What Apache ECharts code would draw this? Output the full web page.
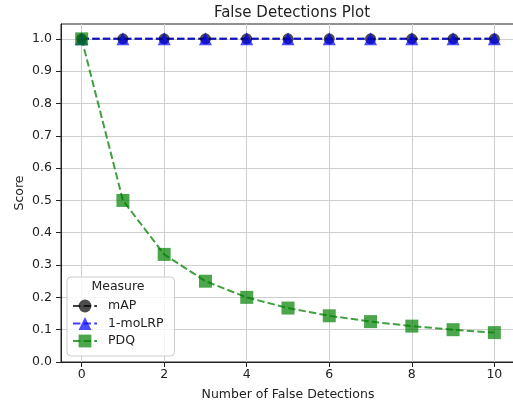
<!DOCTYPE html>
<html>
<head>
<meta charset="utf-8">
<script src="https://cdn.jsdelivr.net/npm/echarts@6/dist/echarts.min.js"></script>
<style>
  html, body { margin: 0; padding: 0; background: #ffffff; }
  #chart { width: 513px; height: 402px; }
</style>
</head>
<body>
<div id="chart"></div>
<script>
// Number of injected false detections per image
const falseDetections = [0, 1, 2, 3, 4, 5, 6, 7, 8, 9, 10];

// Scores for each measure
const mapScores   = [1.0, 1.0, 1.0, 1.0, 1.0, 1.0, 1.0, 1.0, 1.0, 1.0, 1.0];
const moLrpScores = [1.0, 1.0, 1.0, 1.0, 1.0, 1.0, 1.0, 1.0, 1.0, 1.0, 1.0];
const pdqScores   = [1.0, 0.5, 0.333, 0.25, 0.2, 0.167, 0.143, 0.125, 0.111, 0.1, 0.091];

// Tick positions
const xTicks = [0, 2, 4, 6, 8, 10];
const yTicks = [0, 0.1, 0.2, 0.3, 0.4, 0.5, 0.6, 0.7, 0.8, 0.9, 1.0];

const FONT = 'DejaVu Sans';
const INK = '#222222';
const GRID = '#cfcfcf';
const DASH = [7.4, 3.2];

function pairs(values) {
  return falseDetections.map((x, i) => [x, values[i]]);
}

function measureSeries(name, values, color, symbol, size) {
  return {
    name: name,
    type: 'line',
    data: pairs(values),
    symbol: symbol,
    symbolSize: size,
    itemStyle: { color: color, opacity: 0.7 },
    lineStyle: { color: color, width: 2, type: DASH, opacity: 0.75 },
    clip: false,
    emphasis: { disabled: true }
  };
}

const chart = echarts.init(document.getElementById('chart'), null, { renderer: 'canvas' });

chart.setOption({
  animation: false,
  backgroundColor: '#ffffff',
  textStyle: { fontFamily: FONT },
  title: {
    text: 'False Detections Plot',
    left: 287,
    textAlign: 'center',
    top: 1,
    textStyle: { fontFamily: FONT, fontSize: 15, fontWeight: 'normal', color: INK }
  },
  graphic: [{
    type: 'text',
    z: 100,
    x: 118,
    y: 287,
    style: {
      text: 'Measure',
      fontFamily: FONT,
      fontSize: 12.5,
      fill: INK,
      align: 'center',
      verticalAlign: 'middle'
    }
  }],
  legend: {
    orient: 'vertical',
    left: 67,
    top: 277,
    itemWidth: 24,
    itemHeight: 16,
    itemGap: 1.5,
    padding: [21, 11, 7, 5],
    backgroundColor: 'rgba(255,255,255,0.8)',
    borderColor: '#cccccc',
    borderWidth: 1,
    borderRadius: 4,
    textStyle: { fontFamily: FONT, fontSize: 12.5, color: INK, padding: [0, 0, 0, 6], lineHeight: 16 },
    data: ['mAP', '1-moLRP', 'PDQ']
  },
  grid: {
    left: 61,
    right: -2,
    top: 24,
    bottom: 40,
    outerBoundsMode: 'none',
    containLabel: false,
    show: true,
    borderColor: INK,
    borderWidth: 1,
    backgroundColor: 'transparent'
  },
  xAxis: {
    type: 'value',
    min: -0.5,
    max: 10.5,
    name: 'Number of False Detections',
    nameLocation: 'middle',
    nameGap: 26,
    nameMoveOverlap: false,
    nameTextStyle: { fontFamily: FONT, fontSize: 12.5, color: INK },
    axisLine: { show: true, onZero: false, lineStyle: { color: INK, width: 1 } },
    axisTick: { show: true, length: 5, customValues: xTicks, lineStyle: { color: INK } },
    axisLabel: { customValues: xTicks, margin: 6, fontFamily: FONT, fontSize: 12.5, color: INK },
    splitLine: { show: true, lineStyle: { color: GRID, width: 1 } }
  },
  yAxis: {
    type: 'value',
    min: 0,
    max: 1.046,
    name: 'Score',
    nameLocation: 'middle',
    nameGap: 35,
    nameMoveOverlap: false,
    nameTextStyle: { fontFamily: FONT, fontSize: 12.5, color: INK },
    axisLine: { show: true, onZero: false, lineStyle: { color: INK, width: 1 } },
    axisTick: { show: true, length: 5, customValues: yTicks, lineStyle: { color: INK } },
    axisLabel: {
      customValues: yTicks,
      margin: 9,
      fontFamily: FONT,
      fontSize: 12.5,
      color: INK,
      formatter: v => v.toFixed(1)
    },
    splitLine: { show: true, lineStyle: { color: GRID, width: 1 } }
  },
  series: [
    measureSeries('mAP', mapScores, '#000000', 'circle', 11),
    measureSeries('1-moLRP', moLrpScores, '#0000ff', 'triangle', 13),
    measureSeries('PDQ', pdqScores, '#008000', 'rect', 13)
  ]
});
</script>
</body>
</html>
